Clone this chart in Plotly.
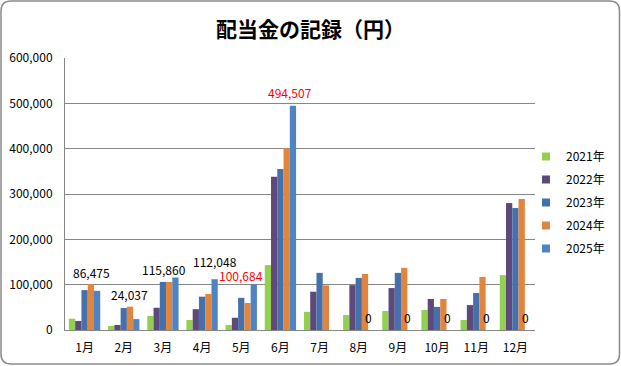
import plotly.graph_objects as go

months = ["1月", "2月", "3月", "4月", "5月", "6月", "7月", "8月", "9月", "10月", "11月", "12月"]
years = ["2021年", "2022年", "2023年", "2024年", "2025年"]

v2021 = [25000, 8800, 31000, 22000, 11000, 143000, 40000, 33000, 42000, 44000, 22000, 121000]
v2022 = [20000, 11000, 49000, 46000, 27000, 338000, 84500, 99000, 92500, 68500, 55000, 280000]
v2023 = [88000, 48500, 106000, 73500, 71000, 355000, 126000, 115000, 126000, 51000, 81500, 269000]
v2024 = [101500, 51500, 106000, 79500, 59500, 401000, 98500, 123500, 137000, 68500, 117000, 289000]
v2025 = [86475, 24037, 115860, 112048, 100684, 494507, None, 0, 0, 0, 0, 0]

colors = ["#92D050", "#5F497A", "#4470AB", "#E2843C", "#4F84C4"]
series = [v2021, v2022, v2023, v2024, v2025]

# label styling for the 2025 values (colour, x/y pixel nudges)
label_colors = ["#000000", "#000000", "#000000", "#000000", "#FF0000", "#FF0000",
                None, "#000000", "#000000", "#000000", "#000000", "#000000"]
label_dx = [-6, -7, -11, 0, -13, -3, 0, -3, -3, -2, -2, -2]
label_dy = [18, 25, 8, 18, 9, 13, 0, 13, 13, 13, 13, 13]

FONT = "Noto Sans CJK JP, Noto Sans, sans-serif"

fig = go.Figure()
for name, vals, col in zip(years, series, colors):
    fig.add_trace(go.Bar(x=months, y=vals, name=name, marker_color=col,
                         marker_line_width=0, showlegend=False))
for i, (name, col) in enumerate(zip(years, colors)):
    fig.add_trace(go.Scatter(x=[None], y=[None], mode="markers", name=name,
                             legendgroup=name,
                             marker=dict(symbol="square", size=8, color=col)))

for m, v, c, dx, dy in zip(months, v2025, label_colors, label_dx, label_dy):
    if v is None:
        continue
    fig.add_annotation(x=m, y=v, xref="x", yref="y", text=f"{v:,}", showarrow=False,
                       xanchor="center", yanchor="middle", xshift=12.5 + dx, yshift=dy,
                       font=dict(family=FONT, size=12, color=c))

# rounded outer border (pixel -> paper conversion)
L, R, T, B = 65, 86, 58, 36
W, H = 621, 366
pw, ph = W - L - R, H - T - B
def X(px):
    return (px - L) / pw
def Y(py):
    return (H - B - py) / ph
x0, x1, y0, y1, r = 1, 619.5, 1, 364, 10
path = (f"M{X(x0+r)},{Y(y0)} L{X(x1-r)},{Y(y0)} Q{X(x1)},{Y(y0)} {X(x1)},{Y(y0+r)} "
        f"L{X(x1)},{Y(y1-r)} Q{X(x1)},{Y(y1)} {X(x1-r)},{Y(y1)} "
        f"L{X(x0+r)},{Y(y1)} Q{X(x0)},{Y(y1)} {X(x0)},{Y(y1-r)} "
        f"L{X(x0)},{Y(y0+r)} Q{X(x0)},{Y(y0)} {X(x0+r)},{Y(y0)} Z")
fig.add_shape(type="path", path=path, xref="paper", yref="paper",
              line=dict(color="#8A8A8A", width=1.5), layer="above")

fig.update_layout(
    width=W, height=H,
    margin=dict(l=L, r=R, t=T, b=B, autoexpand=False),
    paper_bgcolor="white", plot_bgcolor="white",
    barmode="group", bargap=0.2, bargroupgap=0,
    font=dict(family=FONT, size=12, color="#000000"),
    title=dict(text="<b>配当金の記録（円）</b>", x=0.5, xanchor="center",
               y=1 - 30 / H, yanchor="middle", yref="container",
               font=dict(family=FONT, size=21, color="#000000")),
    legend=dict(x=X(526), xanchor="left", y=Y(142), yanchor="top",
                font=dict(family=FONT, size=12), tracegroupgap=4,
                bgcolor="rgba(0,0,0,0)", itemwidth=30),
    xaxis=dict(showline=True, linecolor="#868686", linewidth=1, ticks="",
               showgrid=False, ticklabelstandoff=7, automargin=False,
               tickfont=dict(family=FONT, size=12)),
    yaxis=dict(range=[0, 600000], dtick=100000, tickformat=",", showgrid=True,
               gridcolor="#868686", gridwidth=1, showline=True, linecolor="#868686",
               linewidth=1, ticks="", zeroline=False, ticklabelstandoff=9, automargin=False,
               tickfont=dict(family=FONT, size=12)),
)

fig.write_html("out.html", config={"displayModeBar": False},
               post_script="document.body.style.margin='0px';document.body.style.overflow='hidden';")
